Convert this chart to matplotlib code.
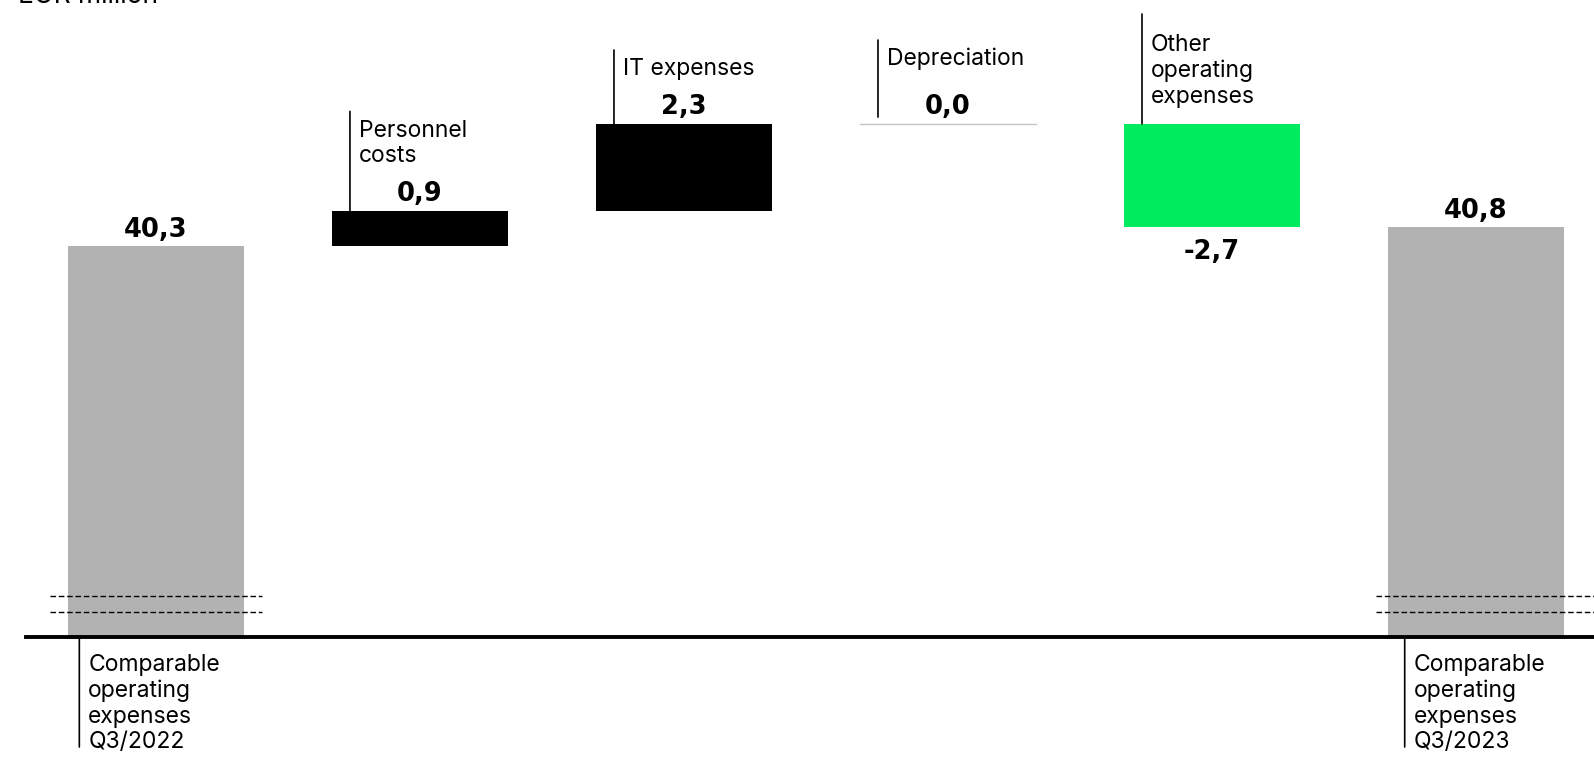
import matplotlib.pyplot as plt
import numpy as np

# Waterfall: comparable operating expenses, EUR million
categories = ['Comparable\noperating\nexpenses\nQ3/2022', 'Personnel\ncosts', 'IT expenses',
              'Depreciation', 'Other\noperating\nexpenses', 'Comparable\noperating\nexpenses\nQ3/2023']
values = [40.3, 0.9, 2.3, 0.0, -2.7, 40.8]
kinds = ['total', 'delta', 'delta', 'delta', 'delta', 'total']
value_labels = ['40,3', '0,9', '2,3', '0,0', '-2,7', '40,8']
unit_label = 'EUR million'

GREY = '#b2b2b2'
BLACK = '#000000'
GREEN = '#00eb5e'
ZERO_LINE = '#c4c4c4'

PX_PER_UNIT = 38.0
AXIS_FLOOR = 30.0  # broken axis starts here

plt.rcParams['font.family'] = ['Inter', 'DejaVu Sans']

fig = plt.figure(figsize=(15.94, 7.58), dpi=100)
W, H = 1594, 758
base_px = 637
ax = fig.add_axes([26 / W, (H - base_px) / H, (W - 26) / W, base_px / H])
ax.set_ylim(AXIS_FLOOR, AXIS_FLOOR + base_px / PX_PER_UNIT)
ax.set_xlim(-0.492, 5.447)

x = np.arange(len(values))
bar_w = 0.667

# compute waterfall bottoms/tops
bottoms, tops = [], []
running = 0.0
for v, k in zip(values, kinds):
    if k == 'total':
        bottoms.append(0.0)
        tops.append(v)
        running = v
    else:
        lo, hi = sorted([running, running + v])
        bottoms.append(lo)
        tops.append(hi)
        running += v

for i, (v, k) in enumerate(zip(values, kinds)):
    if k == 'total':
        ax.bar(x[i], tops[i] - bottoms[i], bottom=bottoms[i], width=bar_w, color=GREY, zorder=1)
    elif v == 0:
        ax.plot([x[i] - bar_w / 2, x[i] + bar_w / 2], [tops[i], tops[i]], color=ZERO_LINE, lw=1.0)
    else:
        ax.bar(x[i], tops[i] - bottoms[i], bottom=bottoms[i], width=bar_w,
               color=BLACK if v > 0 else GREEN, zorder=1)

# axis break marks on the total bars
for i, k in enumerate(kinds):
    if k != 'total':
        continue
    x1 = x[i] + 0.4 if i == 0 else ax.get_xlim()[1]
    x0 = x[i] - 0.4 if i == 0 else x[i] - 0.38
    for yb in (31.08, 30.66):
        ax.plot([x0, x1], [yb, yb], color='black', lw=1.0, ls=(0, (4, 2)), clip_on=False, zorder=3)

value_font = dict(family='DejaVu Sans', weight='bold', size=18.5)
label_font = dict(size=16.5)
LS = 1.21

for i, (v, k) in enumerate(zip(values, kinds)):
    if k == 'total':
        xl = x[i] - (0.29 if i == 0 else 0.27)
        # value above bar
        ax.annotate(value_labels[i], xy=(x[i], tops[i]), xytext=(0, 3), textcoords='offset pixels',
                    ha='center', va='bottom', **value_font)
        # label below the axis with leader line
        ax.annotate('', xy=(xl, AXIS_FLOOR), xytext=(0, -110), textcoords='offset pixels',
                    arrowprops=dict(arrowstyle='-', lw=1.2, color='black', shrinkA=0, shrinkB=0),
                    annotation_clip=False)
        ax.annotate(categories[i], xy=(xl, AXIS_FLOOR), xytext=(9, -17), textcoords='offset pixels',
                    ha='left', va='top', linespacing=LS, annotation_clip=False, **label_font)
        continue

    xl = x[i] - 0.265
    if v >= 0:
        ax.annotate(value_labels[i], xy=(x[i], tops[i]), xytext=(0, 4), textcoords='offset pixels',
                    ha='center', va='bottom', **value_font)
        text_gap = 44 if v > 0 else 54
        line_bot = 0 if v > 0 else 5
        extra = 0
    else:
        ax.annotate(value_labels[i], xy=(x[i], bottoms[i]), xytext=(0, -12), textcoords='offset pixels',
                    ha='center', va='top', **value_font)
        text_gap = 16
        line_bot = 0
        extra = 12

    n_lines = categories[i].count('\n') + 1
    line_top = text_gap + 26 * (n_lines - 1) + 30 + extra
    ax.annotate('', xy=(xl, tops[i]), xytext=(0, line_top), textcoords='offset pixels',
                arrowprops=dict(arrowstyle='-', lw=1.2, color='black', shrinkA=0, shrinkB=line_bot),
                annotation_clip=False)
    ax.annotate(categories[i], xy=(xl, tops[i]), xytext=(9, text_gap), textcoords='offset pixels',
                ha='left', va='bottom', linespacing=LS, annotation_clip=False, **label_font)

for side in ('top', 'right', 'left'):
    ax.spines[side].set_visible(False)
ax.spines['bottom'].set_linewidth(2.8)
ax.spines['bottom'].set_zorder(4)
ax.set_xticks([])
ax.set_yticks([])

# unit caption sits mostly above the visible area, as in the source
fig.text(18 / W, 1 - 3 / H, unit_label, ha='left', va='baseline', fontsize=19)

fig.savefig('out.png', dpi=100)
